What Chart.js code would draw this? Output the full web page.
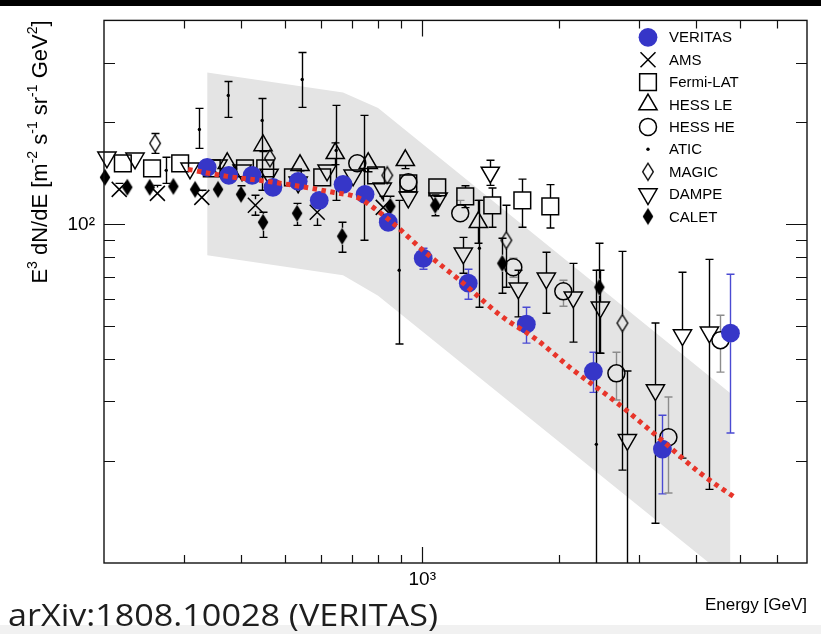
<!DOCTYPE html>
<html>
<head>
<meta charset="utf-8">
<script src="https://cdn.jsdelivr.net/npm/chart.js@4.4.1/dist/chart.umd.min.js"></script>
<style>
  html, body { margin: 0; padding: 0; background: #ffffff; }
  canvas { display: block; }
</style>
</head>
<body>
<canvas id="c" width="821" height="634"></canvas>
<script>
// Cosmic-ray electron + positron spectrum, E^3 dN/dE [m^-2 s^-1 sr^-1 GeV^2] vs energy [GeV]

// ---- VERITAS ----
const veritasE  = [337, 376, 423, 470, 534, 594, 670, 749, 842, 1005, 1262, 1693, 2376, 3369, 4753];
const veritasF  = [147.3, 139.5, 139.5, 128.6, 133.9, 117.7, 131.2, 122.6, 101.4, 79.4, 67.0, 50.7, 36.8, 21.7, 47.7];
const veritasLo = [null, null, null, null, null, null, null, null, null, 73.7, 60.1, 44.6, 31.9, 16.0, 24.2];
const veritasHi = [null, null, null, null, null, null, null, null, null, 85.0, 73.7, 56.9, 41.9, 27.3, 71.2];

// ---- AMS ----
const amsE  = [216, 262, 328, 430, 588, 821];
const amsF  = [126.8, 123.4, 120.1, 113.8, 108.5, 112.2];
const amsLo = [121.8, 119.3, 115.3, 106.3, 99.3, 104.0];
const amsHi = [132.1, 130.3, 126.0, 121.8, 117.7, 121.0];

// ---- Fermi-LAT ----
const fermiE  = [220, 255, 294, 345, 408, 452, 520, 603, 792, 932, 1079, 1243, 1425, 1659, 1911];
const fermiF  = [151.4, 146.3, 151.4, 146.3, 146.3, 146.3, 137.6, 137.6, 139.5, 132.1, 128.6, 120.9, 113.8, 117.7, 113.0];
const fermiLo = [148, 143, 148, 143, 143, 143, 134, 134, 134, 126, 121, 112, 98.0, 98.0, 97.5];
const fermiHi = [155, 150, 155, 150, 150, 150, 141, 141, 145, 138, 136, 130, 128, 136, 131];

// ---- HESS low energy ----
const hessLeE  = [373, 447, 539, 644, 761, 918, 1328];
const hessLeF  = [151.4, 171.0, 149.3, 162.0, 151.4, 154.5, 101.4];
const hessLeLo = [146, 164, 144, 150, 143, 146, 87.9];
const hessLeHi = [157, 178, 155, 174, 160, 163, 117.7];

// ---- HESS high energy ----
const hessHeE  = [720, 932, 1212, 1585, 2041, 2670, 3473, 4518];
const hessHeF  = [151.4, 133.0, 107.8, 74.7, 63.4, 36.3, 23.5, 45.5];
const hessHeLo = [145, 126, 104.2, 69.8, 57.3, 30.3, 16.1, 36.6];
const hessHeHi = [158, 140, 117.7, 79.4, 68.4, 41.9, 30.9, 53.9];

// ---- ATIC ----
const aticE  = [274, 324, 375, 445, 545, 647, 746, 890, 1335, 2412];
const aticF  = [144.3, 190.6, 240.2, 202.7, 267.7, 165.3, 144.3, 73.2, 85.0, 22.4];
const aticLo = [132.1, 167.6, 206.9, 126.0, 221.4, 117.7, 89.7, 44.3, 56.9, 6.0];
const aticHi = [157.7, 219.9, 264.1, 235.3, 321.7, 224.4, 209.7, 117.7, 117.7, 73.2];

// ---- MAGIC ----
const magicE  = [259, 463, 838, 1530, 2752];
const magicF  = [173.4, 156.6, 139.5, 89.7, 51.1];
const magicLo = [162.0, 150, 133, 65.2, 18.8];
const magicHi = [185.5, 163, 146, 113.8, 83.2];

// ---- DAMPE ----
const dampeE  = [203, 234, 309, 356, 402, 461, 534, 618, 705, 817, 932, 1084, 1231, 1411, 1626, 1873, 2147, 2462, 2822, 3252, 3729, 4273];
const dampeF  = [157.7, 156.6, 146.3, 149.3, 144.3, 140.4, 133.0, 144.3, 139.5, 127.7, 120.1, 119.3, 82.1, 142.3, 64.7, 69.3, 60.9, 56.9, 23.1, 32.4, 47.1, 48.0];
const dampeLo = [null, null, null, null, null, null, null, null, null, null, null, null, 71.7, 130.3, 53.3, 54.6, 44.9, 41.6, 5.0, 13.1, 20.4, 16.5];
const dampeHi = [null, null, null, null, null, null, null, null, null, null, null, null, 91.5, 154.5, 73.2, 82.7, 76.7, 73.2, 36.9, 51.1, 72.2, 78.8];

// ---- CALET ----
const caletE  = [201, 225, 252, 284, 317, 356, 400, 447, 531, 667, 851, 1068, 1499, 2449];
const caletF  = [137.6, 128.6, 128.6, 129.4, 126.8, 126.8, 122.6, 101.4, 107.8, 92.2, 113.0, 113.8, 76.7, 65.2];
const caletLo = [133, 124, 124, 124, 121, 121, 116, 91.5, 99.3, 82.7, 105, 106, 62.6, 41.6];
const caletHi = [142, 133, 133, 135, 133, 133, 130, 108.5, 115.3, 101.4, 121, 122, 91.0, 87.9];

// ---- broken power-law fit (red dotted curve) ----
const fitE = [306, 373, 440, 540, 637, 720, 780, 863, 1015, 1224, 1484, 1789, 2147, 2629, 3219, 4083, 4898];
const fitF = [145.3, 138.5, 134.8, 129.4, 124.3, 120.1, 112.2, 100.7, 82.7, 67.4, 53.9, 45.5, 37.1, 30.3, 24.2, 18.4, 15.5];

// ---- systematic band (grey) ----
const bandE  = [337, 670, 800, 4753];
const bandHi = [280.7, 245.2, 220.5, 31.7];
const bandLo = [81.0, 70.7, 61.5, 8.9];

// ---- axis ticks ----
const xMajorTicks = [1000];
const xMinorTicks = [300, 400, 500, 600, 700, 800, 900, 2000, 3000, 4000, 5000, 6000];
const yMajorTicks = [100];
const yMinorTicks = [20, 30, 40, 50, 60, 70, 80, 90, 200, 300];
const tickText = { 100: '10\u00B2', 1000: '10\u00B3' };

const pts = (E, F) => E.map((e, i) => ({ x: e, y: F[i] }));

// tall diamond markers
function diamond(filled) {
  const c = document.createElement('canvas');
  c.width = 14; c.height = 20;
  const g = c.getContext('2d');
  g.beginPath();
  g.moveTo(7, 1.5); g.lineTo(12.3, 10); g.lineTo(7, 18.5); g.lineTo(1.7, 10); g.closePath();
  if (filled) { g.fillStyle = '#000'; g.fill(); }
  else { g.lineWidth = 1.4; g.strokeStyle = '#000'; g.stroke(); }
  return c;
}
const openDiamond = diamond(false);
const fullDiamond = diamond(true);

const NONE = 'rgba(0,0,0,0)';
const BLUE = '#3636c8';

function markerSet(label, E, F, lo, hi, style, row) {
  return Object.assign({
    type: 'scatter', label, data: pts(E, F), errLo: lo, errHi: hi,
    E, F, legendRow: row, order: 5, clip: false,
    borderColor: '#000', backgroundColor: NONE, borderWidth: 1.5,
    errColor: '#000', gapUp: 8, gapDown: 8
  }, style);
}

const datasets = [
  {
    type: 'line', label: 'band-hi', data: pts(bandE, bandHi), order: 20,
    borderWidth: 0, pointRadius: 0, fill: '+1', backgroundColor: '#e4e4e4', tension: 0
  },
  {
    type: 'line', label: 'band-lo', data: pts(bandE, bandLo), order: 21,
    borderWidth: 0, pointRadius: 0, fill: false, tension: 0
  },
  markerSet('VERITAS', veritasE, veritasF, veritasLo, veritasHi,
    { pointStyle: 'circle', pointRadius: 9.4, backgroundColor: BLUE, borderColor: BLUE, borderWidth: 0,
      errColor: '#4a4ad2', gapUp: 9, gapDown: 9, order: 1 }, 0),
  markerSet('AMS', amsE, amsF, amsLo, amsHi,
    { pointStyle: 'crossRot', pointRadius: 10.6, gapUp: 6, gapDown: 6 }, 1),
  markerSet('Fermi-LAT', fermiE, fermiF, fermiLo, fermiHi,
    { pointStyle: 'rect', pointRadius: 11.8, gapUp: 8.3, gapDown: 8.3 }, 2),
  markerSet('HESS LE', hessLeE, hessLeF, hessLeLo, hessLeHi,
    { pointStyle: 'triangle', pointRadius: 10.5, gapUp: 10.5, gapDown: 5.3 }, 3),
  markerSet('HESS HE', hessHeE, hessHeF, hessHeLo, hessHeHi,
    { pointStyle: 'circle', pointRadius: 8.5, gapUp: 8.5, gapDown: 8.5, errColor: '#8c8c8c' }, 4),
  markerSet('ATIC', aticE, aticF, aticLo, aticHi,
    { pointStyle: 'circle', pointRadius: 1.7, backgroundColor: '#000', borderWidth: 0, gapUp: 0, gapDown: 0 }, 5),
  markerSet('MAGIC', magicE, magicF, magicLo, magicHi,
    { pointStyle: openDiamond, pointRadius: 9, gapUp: 8.5, gapDown: 8.5 }, 6),
  markerSet('DAMPE', dampeE, dampeF, dampeLo, dampeHi,
    { pointStyle: 'triangle', rotation: 180, pointRadius: 10.5, gapUp: 5.3, gapDown: 10.5 }, 7),
  markerSet('CALET', caletE, caletF, caletLo, caletHi,
    { pointStyle: fullDiamond, pointRadius: 9, gapUp: 8.5, gapDown: 8.5 }, 8),
  {
    type: 'line', label: 'fit', data: pts(fitE, fitF), order: 0,
    borderColor: '#e8352a', borderWidth: 5, borderDash: [4.5, 4.5], pointRadius: 0, fill: false,
    cubicInterpolationMode: 'monotone', borderCapStyle: 'butt'
  }
];

const FONT = '"Liberation Sans", Arial, Helvetica, sans-serif';

// error bars, drawn right after the grey band so the markers sit on top
const errorBars = {
  id: 'errorBars',
  afterDatasetDraw(chart, args) {
    if (chart.data.datasets[args.index].label !== 'band-hi') return;
    const { ctx, chartArea: a, scales: { x, y } } = chart;
    ctx.save();
    ctx.beginPath(); ctx.rect(a.left, a.top, a.right - a.left, a.bottom - a.top); ctx.clip();
    ctx.lineWidth = 1.4;
    chart.data.datasets.forEach(d => {
      if (!d.errLo) return;
      ctx.strokeStyle = d.errColor;
      d.E.forEach((e, i) => {
        const lo = d.errLo[i], hi = d.errHi[i];
        if (lo == null || hi == null) return;
        const px = Math.round(x.getPixelForValue(e)) + 0.5;
        const py = y.getPixelForValue(d.F[i]);
        const pl = y.getPixelForValue(lo);
        const ph = y.getPixelForValue(hi);
        ctx.beginPath();
        if (d.gapUp === 0 && d.gapDown === 0) { ctx.moveTo(px, ph); ctx.lineTo(px, pl); }
        else {
          if (pl > py + d.gapDown) { ctx.moveTo(px, py + d.gapDown); ctx.lineTo(px, pl); }
          if (ph < py - d.gapUp) { ctx.moveTo(px, py - d.gapUp); ctx.lineTo(px, ph); }
        }
        if (pl < a.bottom && pl > py + d.gapDown) { ctx.moveTo(px - 4, pl); ctx.lineTo(px + 4, pl); }
        if (ph < py - d.gapUp) { ctx.moveTo(px - 4, ph); ctx.lineTo(px + 4, ph); }
        ctx.stroke();
      });
    });
    ctx.restore();
  }
};

// page background strips
const pageBackground = {
  id: 'pageBackground',
  beforeDraw(chart) {
    const ctx = chart.ctx;
    ctx.save();
    ctx.fillStyle = '#ffffff'; ctx.fillRect(0, 0, 821, 634);
    ctx.fillStyle = '#000000'; ctx.fillRect(0, 0, 821, 6);
    ctx.fillStyle = '#f1f1f1'; ctx.fillRect(0, 625, 821, 9);
    ctx.restore();
  }
};

// frame, inward ticks, legend and titles
const decorations = {
  id: 'decorations',
  afterDatasetsDraw(chart) {
    const { ctx, chartArea: a, scales: { x, y } } = chart;
    ctx.save();
    ctx.strokeStyle = '#111'; ctx.lineWidth = 1.4;
    ctx.strokeRect(a.left, a.top, a.right - a.left, a.bottom - a.top);
    ctx.lineWidth = 1.2;
    ctx.beginPath();
    const xt = (v, len) => {
      const p = Math.round(x.getPixelForValue(v)) + 0.5;
      ctx.moveTo(p, a.bottom); ctx.lineTo(p, a.bottom - len);
      ctx.moveTo(p, a.top); ctx.lineTo(p, a.top + len);
    };
    const yt = (v, len) => {
      const p = Math.round(y.getPixelForValue(v)) + 0.5;
      ctx.moveTo(a.left, p); ctx.lineTo(a.left + len, p);
      ctx.moveTo(a.right, p); ctx.lineTo(a.right - len, p);
    };
    xMajorTicks.forEach(v => xt(v, 16)); xMinorTicks.forEach(v => xt(v, 8));
    yMajorTicks.forEach(v => yt(v, 21)); yMinorTicks.forEach(v => yt(v, 11));
    ctx.stroke();

    // legend
    ctx.font = '15px ' + FONT;
    ctx.textBaseline = 'middle';
    chart.data.datasets.forEach(d => {
      if (d.legendRow === undefined) return;
      const ly = 37.3 + d.legendRow * 22.4;
      ctx.save();
      ctx.fillStyle = d.backgroundColor; ctx.strokeStyle = d.borderColor; ctx.lineWidth = d.borderWidth;
      Chart.helpers.drawPoint(ctx, {
        pointStyle: d.pointStyle, rotation: d.rotation || 0, radius: d.pointRadius, borderWidth: d.borderWidth
      }, 648, ly);
      ctx.restore();
      ctx.fillStyle = '#000';
      ctx.fillText(d.label, 669, ly + 1);
    });

    // x title
    ctx.textBaseline = 'alphabetic';
    ctx.textAlign = 'right';
    ctx.font = '17px ' + FONT;
    ctx.fillText('Energy [GeV]', 807, 610);

    // y title with superscripts
    const parts = [['E', 0], ['3', 1], [' dN/dE [m', 0], ['-2', 1], [' s', 0], ['-1', 1], [' sr', 0], ['-1', 1], [' GeV', 0], ['2', 1], [']', 0]];
    const big = '22px ' + FONT, small = '14px ' + FONT;
    let total = 0;
    parts.forEach(([t, s]) => { ctx.font = s ? small : big; total += ctx.measureText(t).width; });
    ctx.save();
    ctx.translate(47, 152);
    ctx.rotate(-Math.PI / 2);
    ctx.textAlign = 'left';
    let cx = -total / 2;
    parts.forEach(([t, s]) => {
      ctx.font = s ? small : big;
      ctx.fillText(t, cx, s ? -10 : 0);
      cx += ctx.measureText(t).width;
    });
    ctx.restore();

    // source note, fitted to its line width
    const note = 'arXiv:1808.10028 (VERITAS)';
    ctx.textAlign = 'left';
    ctx.font = '31px "Open Sans", "Noto Sans", sans-serif';
    ctx.fillStyle = '#1e1e1e';
    const w = ctx.measureText(note).width;
    ctx.save();
    ctx.translate(8, 626);
    ctx.scale(430 / w, 1);
    ctx.fillText(note, 0, 0);
    ctx.restore();
    ctx.restore();
  }
};

new Chart(document.getElementById('c'), {
  data: { datasets },
  options: {
    responsive: false,
    animation: false,
    devicePixelRatio: 1,
    layout: { padding: { left: 0, top: 20, right: 14, bottom: 0 } },
    plugins: { legend: { display: false }, tooltip: { enabled: false } },
    scales: {
      x: {
        type: 'logarithmic', min: 200, max: 7000,
        grid: { display: false, drawTicks: false }, border: { display: false },
        afterBuildTicks: s => { s.ticks = xMajorTicks.map(v => ({ value: v })); },
        afterFit: s => { s.height = 71; },
        ticks: { callback: v => tickText[v] || '', color: '#000', font: { family: FONT, size: 19 }, padding: 5, maxRotation: 0, autoSkip: false }
      },
      y: {
        type: 'logarithmic', min: 10, max: 400,
        grid: { display: false, drawTicks: false }, border: { display: false },
        afterBuildTicks: s => { s.ticks = yMajorTicks.map(v => ({ value: v })); },
        afterFit: s => { s.width = 104; },
        ticks: { callback: v => tickText[v] || '', color: '#000', font: { family: FONT, size: 19 }, padding: 9, autoSkip: false }
      }
    }
  },
  plugins: [pageBackground, errorBars, decorations]
});
</script>
</body>
</html>
